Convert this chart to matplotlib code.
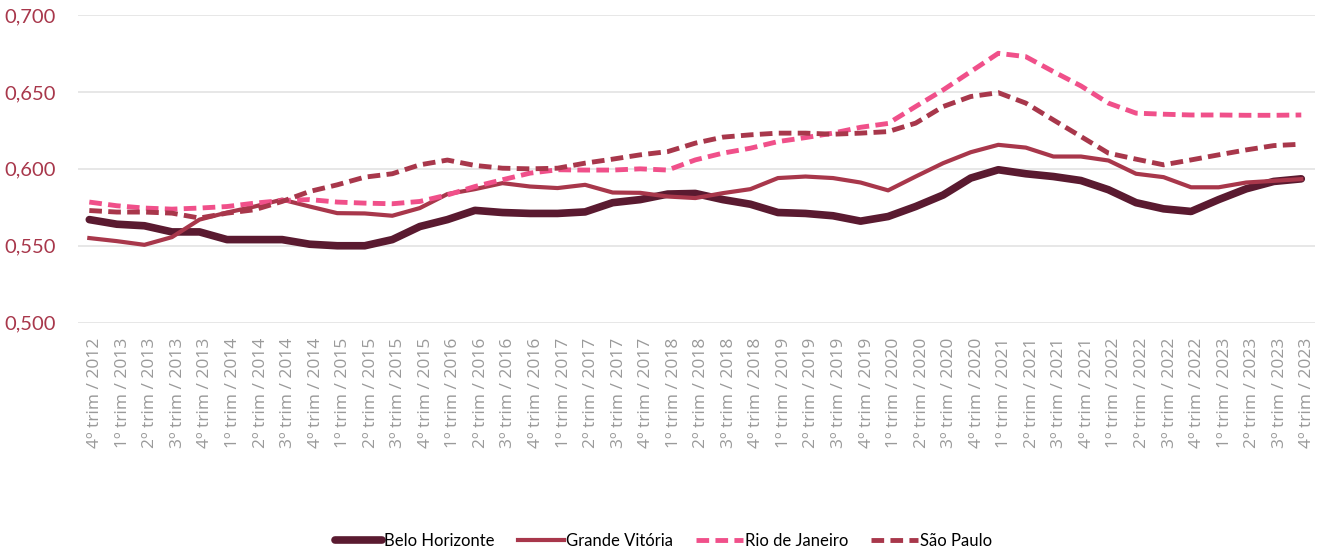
import matplotlib.pyplot as plt
from matplotlib.ticker import FuncFormatter
from matplotlib.transforms import ScaledTranslation

anos = list(range(2012, 2024))
periodos = ['4º trim / 2012'] + [f'{q}º trim / {a}' for a in anos[1:] for q in (1, 2, 3, 4)]

belo_horizonte = [0.567, 0.564, 0.563, 0.559, 0.559, 0.554, 0.554, 0.554, 0.551, 0.550,
                  0.550, 0.554, 0.5625, 0.567, 0.573, 0.5716, 0.571, 0.571, 0.572, 0.578,
                  0.580, 0.5836, 0.584, 0.580, 0.577, 0.5716, 0.571, 0.5695, 0.566, 0.569,
                  0.5755, 0.583, 0.594, 0.5994, 0.5968, 0.595, 0.5924, 0.5864, 0.578, 0.574,
                  0.5723, 0.580, 0.587, 0.5918, 0.5935]
grande_vitoria = [0.555, 0.553, 0.5506, 0.5556, 0.567, 0.5716, 0.5755, 0.580, 0.5755, 0.5712,
                  0.571, 0.5695, 0.5745, 0.5836, 0.5868, 0.5907, 0.5885, 0.5875, 0.5896, 0.5846,
                  0.5844, 0.582, 0.581, 0.5842, 0.5868, 0.594, 0.595, 0.594, 0.5911, 0.586,
                  0.595, 0.6037, 0.6108, 0.6156, 0.6138, 0.608, 0.608, 0.6054, 0.5968, 0.5946,
                  0.588, 0.588, 0.5911, 0.5922, 0.5933]
rio_de_janeiro = [0.5784, 0.576, 0.5745, 0.5738, 0.5745, 0.5755, 0.5777, 0.5794, 0.580, 0.5784,
                  0.5777, 0.5773, 0.5788, 0.583, 0.5885, 0.5929, 0.5972, 0.5994, 0.5992, 0.5992,
                  0.600, 0.5992, 0.6058, 0.6102, 0.6134, 0.6177, 0.6203, 0.6232, 0.627, 0.6295,
                  0.6405, 0.6513, 0.6632, 0.6751, 0.6729, 0.6632, 0.6539, 0.6427, 0.6362, 0.6355,
                  0.635, 0.635, 0.6348, 0.6348, 0.635]
sao_paulo = [0.5729, 0.5719, 0.5719, 0.5712, 0.568, 0.5712, 0.5734, 0.5788, 0.5853, 0.5896,
             0.5946, 0.5968, 0.6026, 0.6057, 0.6022, 0.6004, 0.600, 0.6004, 0.6037, 0.6063,
             0.6091, 0.6112, 0.6167, 0.6206, 0.6221, 0.6232, 0.6232, 0.6225, 0.6232, 0.6242,
             0.6297, 0.6405, 0.647, 0.6495, 0.6427, 0.6318, 0.621, 0.6102, 0.6063, 0.6026,
             0.6058, 0.6091, 0.6123, 0.6151, 0.616]

x = range(len(periodos))

fig = plt.figure(figsize=(13.27, 5.53), dpi=100)
ax = fig.add_axes([0.059, 0.4165, 0.932, 0.5564])

ax.plot(x, belo_horizonte, color='#5A1A30', lw=5.5, solid_capstyle='round', label='Belo Horizonte')
ax.plot(x, grande_vitoria, color='#A8374B', lw=3, label='Grande Vitória')
ax.plot(x, rio_de_janeiro, color='#F0508A', lw=3.5, dashes=(2.6, 1.3), label='Rio de Janeiro')
ax.plot(x, sao_paulo, color='#A8374B', lw=3.5, dashes=(2.6, 1.3), label='São Paulo')

ax.set_xlim(-0.4, 44.5)
ax.set_ylim(0.5, 0.7)
ax.set_yticks([0.5, 0.55, 0.6, 0.65, 0.7])
ax.yaxis.set_major_formatter(FuncFormatter(lambda v, p: f'{v:.3f}'.replace('.', ',')))
ax.grid(axis='y', color='#E3E3E3', lw=1.2)
ax.set_axisbelow(True)
for s in ax.spines.values():
    s.set_visible(False)

ax.set_xticks(list(x))
ax.set_xticklabels(periodos, rotation=90, family='Open Sans', fontsize=12.5, color='#9A9A9A')
ax.tick_params(axis='x', length=0, pad=11)
ax.tick_params(axis='y', length=0, pad=16, labelsize=14.5, labelcolor='#A8374B')
shift = ScaledTranslation(0.06, 0, fig.dpi_scale_trans)
for t in ax.get_xticklabels():
    t.set_transform(t.get_transform() + shift)
for t in ax.get_yticklabels():
    t.set_family('Lato')

fig.legend(loc='lower center', bbox_to_anchor=(0.5, -0.02), ncol=4, frameon=False,
           prop={'family': 'Lato', 'size': 12}, handlelength=2.8, handletextpad=0.1,
           columnspacing=1.4)

fig.savefig('out.png', dpi=100)
